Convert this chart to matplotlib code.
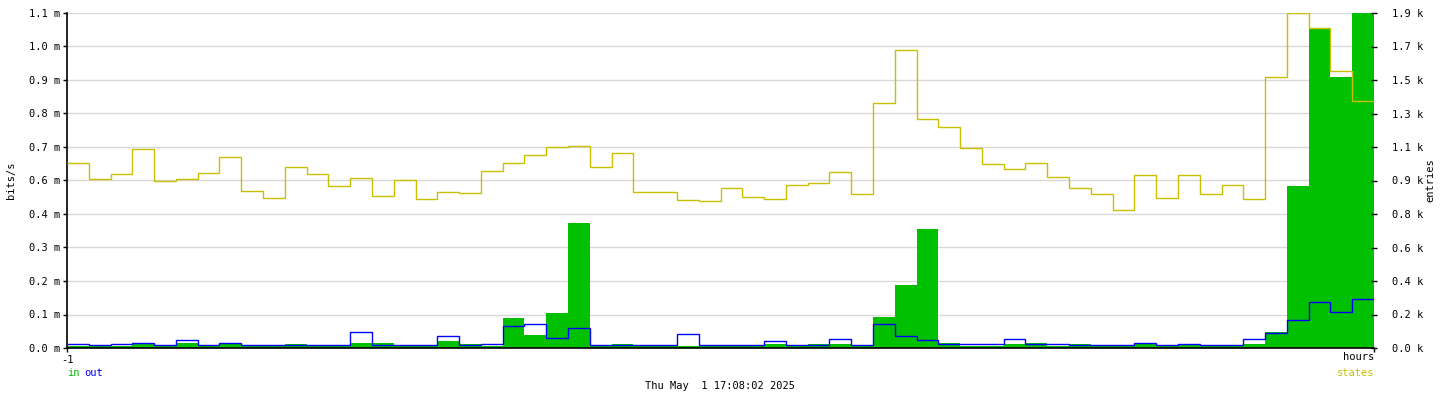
import numpy as np
import matplotlib.pyplot as plt

plt.rcParams['font.family'] = 'DejaVu Sans Mono'
plt.rcParams['font.size'] = 7.5

# one sample per minute over the last hour
minutes = np.arange(-60, 1)

# bits/s, in milli units
bits_in = [0.008, 0.008, 0.008, 0.017, 0.008, 0.018, 0.008, 0.017, 0.008, 0.008,
           0.014, 0.008, 0.008, 0.015, 0.015, 0.008, 0.008, 0.024, 0.014, 0.008,
           0.099, 0.044, 0.115, 0.410, 0.009, 0.014, 0.008, 0.008, 0.008, 0.008,
           0.008, 0.008, 0.014, 0.008, 0.014, 0.014, 0.008, 0.102, 0.207, 0.390,
           0.016, 0.008, 0.008, 0.014, 0.016, 0.008, 0.014, 0.008, 0.008, 0.016,
           0.008, 0.012, 0.008, 0.008, 0.012, 0.052, 0.533, 1.047, 0.891, 1.100]
bits_out = [0.014, 0.011, 0.014, 0.017, 0.011, 0.027, 0.011, 0.017, 0.010, 0.010,
            0.010, 0.010, 0.010, 0.052, 0.010, 0.010, 0.010, 0.038, 0.010, 0.013,
            0.072, 0.078, 0.034, 0.065, 0.010, 0.010, 0.010, 0.010, 0.046, 0.010,
            0.010, 0.010, 0.023, 0.010, 0.010, 0.029, 0.010, 0.078, 0.039, 0.026,
            0.013, 0.013, 0.013, 0.029, 0.013, 0.013, 0.010, 0.010, 0.010, 0.016,
            0.010, 0.012, 0.010, 0.010, 0.029, 0.050, 0.092, 0.151, 0.118, 0.161]
states = [1048, 958, 987, 1127, 946, 958, 992, 1081, 890, 851,
          1026, 987, 918, 963, 862, 952, 846, 884, 878, 1003,
          1048, 1093, 1138, 1144, 1026, 1104, 884, 882, 838, 832,
          905, 855, 843, 927, 933, 1001, 872, 1391, 1691, 1296,
          1256, 1136, 1041, 1018, 1052, 969, 905, 872, 781, 979,
          849, 984, 876, 927, 843, 1537, 1898, 1815, 1571, 1403]

left_labels = ['0.0 m', '0.1 m', '0.2 m', '0.3 m', '0.4 m', '0.6 m',
               '0.7 m', '0.8 m', '0.9 m', '1.0 m', '1.1 m']
right_labels = ['0.0 k', '0.2 k', '0.4 k', '0.6 k', '0.8 k', '0.9 k',
                '1.1 k', '1.3 k', '1.5 k', '1.7 k', '1.9 k']

GREEN = '#00c000'
BLUE = '#0000ff'
YELLOW = '#c8c000'

fig = plt.figure(figsize=(14.4, 4), dpi=100)
ax = fig.add_axes([67/1440, 52/400, 1307/1440, 335/400])

ax.stairs(bits_in, minutes, fill=True, color=GREEN, lw=0, zorder=2)
ax.stairs(bits_out, minutes, baseline=None, color=BLUE, lw=1.0, zorder=3)
ax.set_xlim(-60, 0)
ax.set_ylim(0, 1.1)
ax.set_yticks(np.linspace(0, 1.1, 11), left_labels)
ax.grid(axis='y', color='#d8d8d8', lw=1.0)
ax.set_axisbelow(True)
ax.set_xticks([-60, 0], ['-1', ''])
ax.tick_params(axis='both', direction='out', length=3, width=1, pad=2)
for s in ['top', 'right']:
    ax.spines[s].set_visible(False)
ax.spines['left'].set_linewidth(1.2)
ax.spines['bottom'].set_linewidth(1.2)
ax.set_ylabel('bits/s')
ax.yaxis.set_label_coords(-0.039, 0.5)

ax2 = ax.twinx()
ax2.stairs(states, minutes, baseline=None, color=YELLOW, lw=1.0, zorder=4)
ax2.set_ylim(0, 1900)
ax2.set_yticks(np.linspace(0, 1900, 11), right_labels)
ax2.tick_params(axis='y', direction='inout', length=4, width=1, pad=11)
for s in ax2.spines.values():
    s.set_visible(False)
ax2.set_ylabel('entries')
ax2.yaxis.set_label_coords(1.039, 0.5)

fig.text(1374/1440, 1 - 357/400, 'hours', ha='right', va='center')
fig.text(67/1440, 1 - 373/400, 'in', color=GREEN, va='center')
fig.text(84/1440, 1 - 373/400, 'out', color=BLUE, va='center')
fig.text(1374/1440, 1 - 373/400, 'states', color=YELLOW, ha='right', va='center')
fig.text(0.5, 1 - 386/400, 'Thu May  1 17:08:02 2025', ha='center', va='center')

fig.savefig('out.png', dpi=100)
